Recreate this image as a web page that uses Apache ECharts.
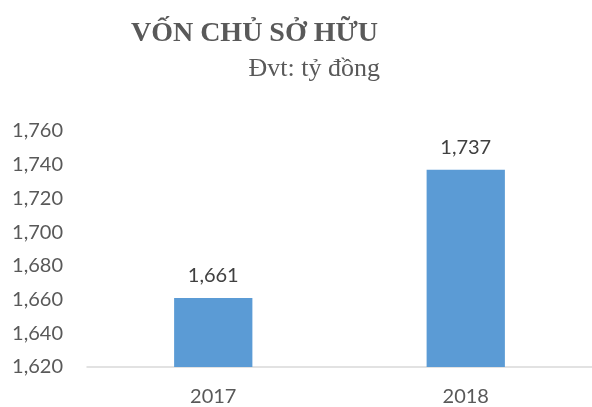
<!DOCTYPE html>
<html>
<head>
<meta charset="utf-8">
<script src="https://cdn.jsdelivr.net/npm/echarts@6/dist/echarts.min.js"></script>
<style>
  html, body { margin: 0; padding: 0; background: #fff; }
  #chart { width: 592px; height: 407px; }
</style>
</head>
<body>
<div id="chart"></div>
<script>
  // dữ liệu biểu đồ
  var years = ['2017', '2018'];
  var vonChuSoHuu = [1661, 1737];
  var yMin = 1620, yMax = 1760, yStep = 20;

  var chart = echarts.init(document.getElementById('chart'));
  chart.setOption({
    animation: false,
    title: [
      {
        text: 'VỐN CHỦ SỞ HỮU',
        right: 209,
        top: 15,
        textStyle: { fontFamily: 'Liberation Serif', fontWeight: 'bold', fontSize: 28, color: '#595959' }
      },
      {
        text: 'Đvt: tỷ đồng',
        right: 207,
        top: 51,
        textStyle: { fontFamily: 'Liberation Serif', fontWeight: 'normal', fontSize: 26, color: '#595959' }
      }
    ],
    grid: { left: 87, top: 131, width: 508, height: 236, containLabel: false },
    xAxis: {
      type: 'category',
      data: years,
      axisLine: { lineStyle: { color: '#d9d9d9', width: 1.5 } },
      axisTick: { show: false },
      axisLabel: { color: '#595959', fontSize: 20, fontFamily: 'Lato', margin: 20 }
    },
    yAxis: {
      type: 'value',
      min: yMin,
      max: yMax,
      interval: yStep,
      axisLine: { show: false },
      axisTick: { show: false },
      splitLine: { show: false },
      axisLabel: {
        color: '#595959', fontSize: 20, fontFamily: 'Lato', margin: 24,
        formatter: function (v) { return v.toLocaleString('en-US'); }
      }
    },
    series: [{
      type: 'bar',
      data: vonChuSoHuu,
      barWidth: '31%',
      itemStyle: { color: '#5b9bd5' },
      label: {
        show: true,
        position: 'top',
        distance: 12,
        color: '#404040',
        fontSize: 20,
        fontFamily: 'Lato',
        formatter: function (p) { return p.value.toLocaleString('en-US'); }
      }
    }]
  });
</script>
</body>
</html>
